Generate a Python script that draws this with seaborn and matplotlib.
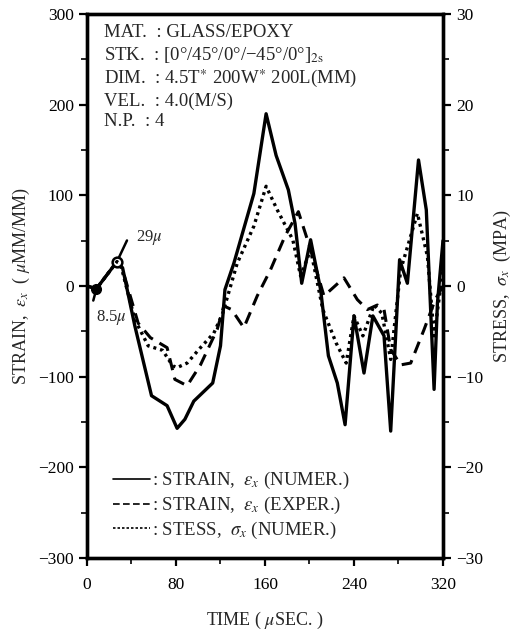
import matplotlib
matplotlib.use("Agg")
import matplotlib.pyplot as plt
from matplotlib.lines import Line2D
from matplotlib.ticker import MultipleLocator
import seaborn as sns
import pandas as pd

# strain, numerical (micro mm/mm)
time_num = [0, 8.5, 27, 32, 43, 58, 72, 81, 88, 96, 113, 120, 124, 132, 150, 161,
            170, 181, 187, 193, 201, 210, 217, 225, 232, 240, 249, 257, 267, 273,
            281, 288, 298, 305, 312, 315, 320]
strain_num = [0, -3, 27, 20, -44, -121, -132, -157, -147, -127, -107, -66, -4, 25,
              102, 190, 144, 106, 69, 3, 51, -4, -77, -107, -153, -33, -96, -33,
              -55, -160, 29, 3, 139, 84, -114, -19, 50]

# strain, experimental (micro mm/mm)
time_exp = [0, 8.5, 27, 32, 46, 57, 72, 79, 90, 102, 117, 123, 130, 141, 153, 165,
            178, 190, 200, 213, 231, 243, 252, 261, 267, 273, 282, 291, 303, 313, 320]
strain_exp = [0, -3, 27, 18, -41, -57, -68, -103, -110, -87, -48, -22, -26, -46,
              -11, 18, 55, 82, 44, -11, 9, -15, -26, -21, -26, -70, -87, -85, -48,
              -15, 0]

# stress, numerical (MPa)
time_str = [0, 8.5, 27, 31, 43, 55, 68, 77, 81, 90, 102, 114, 122, 135, 150, 161,
            171, 185, 192, 201, 212, 224, 233, 240, 248, 258, 265, 273, 282, 297,
            306, 312, 320]
stress_num = [0, -0.3, 2.7, 2.0, -3.7, -6.6, -7.1, -8.8, -9.0, -8.5, -6.8, -5.2,
              -3.0, 2.5, 6.6, 11.0, 8.4, 5.1, 1.1, 4.0, -2.6, -6.3, -8.5, -3.3,
              -5.5, -2.1, -3.0, -8.1, 1.8, 8.0, 3.3, -5.5, 1.8]

info_lines = [
    "MAT.  : GLASS/EPOXY",
    r"STK.  : [0°/45°/0°/−45°/0°]$_{\mathrm{2s}}$",
    "DIM.  : 4.5T$^{\\ast}$ 200W$^{\\ast}$ 200L(MM)",
    "VEL.  : 4.0(M/S)",
    "N.P.  : 4",
]
legend_labels = [
    r": STRAIN,  $\varepsilon_x$ (NUMER.)",
    r": STRAIN,  $\varepsilon_x$ (EXPER.)",
    r": STESS,  $\sigma_x$ (NUMER.)",
]

# marked points and leader ends
pt_filled = (8.5, -3)
pt_open = (27, 27)
lead_filled = (5, -19)
lead_open = (37, 53)

sns.set_style("ticks")
plt.rcParams['font.family'] = ['Liberation Serif', 'DejaVu Serif']
plt.rcParams['mathtext.fontset'] = 'stix'

fig = plt.figure(figsize=(5.16, 6.34), dpi=100)
ax = fig.add_axes([0.1686, 0.1199, 0.6899, 0.858])
ax2 = ax.twinx()

df_num = pd.DataFrame({'t': time_num, 'v': strain_num})
df_exp = pd.DataFrame({'t': time_exp, 'v': strain_exp})
df_str = pd.DataFrame({'t': time_str, 'v': stress_num})

sns.lineplot(data=df_num, x='t', y='v', ax=ax, color='black', lw=2.4,
             estimator=None, sort=False)
sns.lineplot(data=df_exp, x='t', y='v', ax=ax, color='black', lw=2.2,
             linestyle=(0, (4, 2.5)), estimator=None, sort=False)
sns.lineplot(data=df_str, x='t', y='v', ax=ax2, color='black', lw=2.4,
             linestyle=(0, (0.9, 1.2)), estimator=None, sort=False)

# markers with leader lines
ax.plot(*pt_filled, 'o', color='black', ms=7, zorder=5)
ax.plot(*pt_open, 'o', mfc='white', mec='black', mew=1.8, ms=7, zorder=5)
ax.annotate('', xy=pt_filled, xytext=lead_filled,
            arrowprops=dict(arrowstyle='-', lw=1.8, color='black'))
ax.annotate('', xy=pt_open, xytext=lead_open,
            arrowprops=dict(arrowstyle='-', lw=1.8, color='black'))
ax.text(44, 54, r"29$\mu$", fontsize=12, va='center', ha='left')
ax.text(8, -35, r"8.5$\mu$", fontsize=12, va='center', ha='left')

ax.set_xlim(0, 320)
ax.set_ylim(-300, 300)
ax2.set_ylim(-30, 30)
ax.set_xticks([0, 80, 160, 240, 320])
ax.xaxis.set_minor_locator(MultipleLocator(40))
ax.yaxis.set_major_locator(MultipleLocator(100))
ax.yaxis.set_minor_locator(MultipleLocator(50))
ax2.yaxis.set_major_locator(MultipleLocator(10))
ax2.yaxis.set_minor_locator(MultipleLocator(5))

for a in (ax, ax2):
    a.tick_params(which='major', direction='out', length=6, width=1.6,
                  labelsize=12.5, colors='black')
    a.tick_params(which='minor', direction='out', length=4, width=1.4)
    for s in a.spines.values():
        s.set_linewidth(2.4)
        s.set_visible(True)
        s.set_color('black')
ax.tick_params(axis='x', pad=8)

ax.set_xlabel(r"TIME ( $\mu$SEC. )", fontsize=13, labelpad=12)
ax.set_ylabel(r"STRAIN,  $\varepsilon_x$  ( $\mu$MM/MM)", fontsize=13, labelpad=4)
ax2.set_ylabel(r"STRESS,  $\sigma_x$  (MPA)", fontsize=13, labelpad=6)

ax.text(0.047, 0.982, "\n".join(info_lines), transform=ax.transAxes,
        fontsize=13.5, va='top', ha='left', linespacing=1.25)

handles = [Line2D([], [], color='black', lw=1.2),
           Line2D([], [], color='black', lw=1.2, linestyle=(0, (4, 2))),
           Line2D([], [], color='black', lw=1.2, linestyle=(0, (1.5, 1.2)))]
ax.legend(handles, legend_labels, loc='lower left',
          bbox_to_anchor=(0.025, 0.0), frameon=False, fontsize=13.5,
          handlelength=2.0, handletextpad=0.1, labelspacing=0.2)

fig.savefig('out.png', dpi=100)
plt.close(fig)
